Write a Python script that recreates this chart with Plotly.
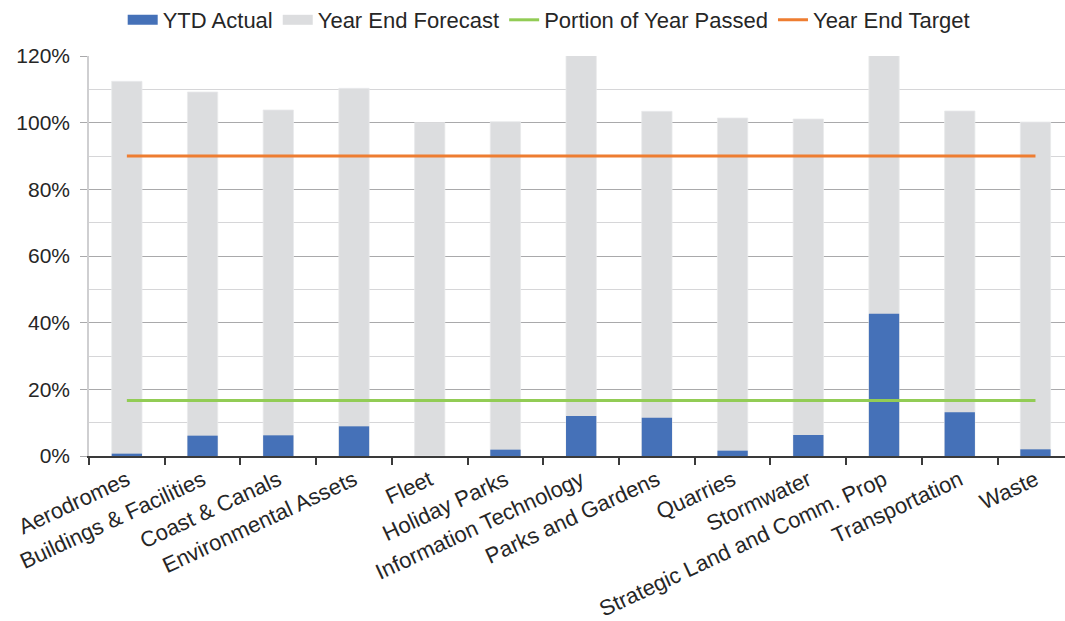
import plotly.graph_objects as go

categories = [
    "Aerodromes", "Buildings & Facilities", "Coast & Canals", "Environmental Assets",
    "Fleet", "Holiday Parks", "Information Technology", "Parks and Gardens",
    "Quarries", "Stormwater", "Strategic Land and Comm. Prop", "Transportation", "Waste",
]
ytd_actual = [0.7, 6.1, 6.2, 8.9, 0.0, 1.9, 12.0, 11.5, 1.6, 6.3, 42.7, 13.1, 2.0]
year_end_forecast = [112.4, 109.2, 103.8, 110.3, 100.0, 100.3, 128.0, 103.4, 101.4, 101.1, 135.0, 103.5, 100.2]
portion_of_year_passed = [16.67] * len(categories)
year_end_target = [90.0] * len(categories)

FONT = "Arial, Liberation Sans, sans-serif"
TEXT = "#262626"
BLUE = "#4571B8"
GREY = "#DCDDDF"
GREEN = "#92CC55"
ORANGE = "#EE7D31"

fig = go.Figure()

# Forecast bars drawn first so the actuals overlay them
fig.add_trace(go.Bar(
    x=categories, y=year_end_forecast, name="Year End Forecast",
    marker=dict(color=GREY, line=dict(color="#E9EAEB", width=0.8)),
    width=0.4, showlegend=False,
))
fig.add_trace(go.Bar(
    x=categories, y=ytd_actual, name="YTD Actual",
    marker=dict(color=BLUE, line=dict(width=0)),
    width=0.4, showlegend=False,
))
fig.add_trace(go.Scatter(
    x=categories, y=portion_of_year_passed, name="Portion of Year Passed",
    mode="lines", line=dict(color=GREEN, width=3), legendrank=3,
))
fig.add_trace(go.Scatter(
    x=categories, y=year_end_target, name="Year End Target",
    mode="lines", line=dict(color=ORANGE, width=3), legendrank=4,
))

# Legend keys for the bar series, shown as wide colour patches
fig.add_trace(go.Scatter(
    x=[None], y=[None], name="YTD Actual", mode="lines",
    line=dict(color=BLUE, width=16), legendrank=1, hoverinfo="skip",
))
fig.add_trace(go.Scatter(
    x=[None], y=[None], name="Year End Forecast", mode="lines",
    line=dict(color=GREY, width=16), legendrank=2, hoverinfo="skip",
))

fig.update_layout(
    width=1065, height=621,
    margin=dict(l=89, r=0, t=56, b=165, autoexpand=False),
    paper_bgcolor="white", plot_bgcolor="white",
    barmode="overlay",
    font=dict(family=FONT, size=21, color=TEXT),
    showlegend=True,
    legend=dict(
        orientation="h", x=0.471, xanchor="center", y=1.09, yanchor="middle",
        font=dict(family=FONT, size=22, color=TEXT),
        traceorder="normal",
    ),
)
fig.update_xaxes(
    type="category",
    range=[-0.5, 12.39],
    automargin=False,
    showline=True, linecolor="#3A3A3A", linewidth=1.5,
    ticks="outside", tickson="boundaries", ticklen=7, tickcolor="#3A3A3A", tickwidth=1.5,
    tickangle=-25,
    ticklabelstandoff=1,
    tickfont=dict(family=FONT, size=22, color=TEXT),
    showgrid=False,
)
fig.update_yaxes(
    range=[0, 120],
    automargin=False,
    dtick=20, ticksuffix="%",
    showgrid=True, gridcolor="#A9A9AB", gridwidth=1.3,
    minor=dict(dtick=10, showgrid=True, gridcolor="#D6D6D8", gridwidth=1.3),
    ticks="outside", ticklen=7, tickcolor="#A9A9AB", tickwidth=1.3,
    showline=True, linecolor="#CFCFD1", linewidth=1.5,
    zeroline=False,
    ticklabelstandoff=6,
    tickfont=dict(family=FONT, size=21, color=TEXT),
)

fig.write_html("out.html")
